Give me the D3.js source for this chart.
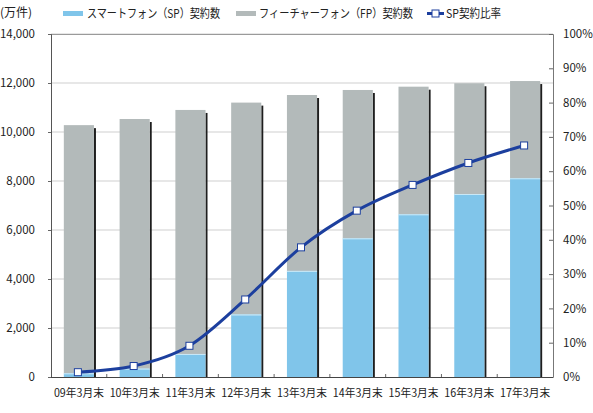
<!DOCTYPE html>
<html><head><meta charset="utf-8">
<script src="https://cdn.jsdelivr.net/npm/d3@7"></script>
<style>
html,body{margin:0;padding:0;background:#fff;}
text{font-family:"Noto Sans CJK JP","Noto Sans",sans-serif;fill:#222;}
</style></head>
<body><svg id="c" width="593" height="413"></svg>
<script>
const categories = ["09年3月末","10年3月末","11年3月末","12年3月末","13年3月末","14年3月末","15年3月末","16年3月末","17年3月末"];
const spValues = [150, 340, 940, 2550, 4330, 5660, 6640, 7470, 8110];
const totalValues = [10280, 10530, 10900, 11200, 11510, 11715, 11850, 11990, 12080];
const spRatio = [1.4, 3.2, 9.1, 22.6, 37.8, 48.5, 56.0, 62.4, 67.5];
const leftTicks = [0, 2000, 4000, 6000, 8000, 10000, 12000, 14000];
const rightTicks = [0,10,20,30,40,50,60,70,80,90,100];
const legendLabels = ["スマートフォン（SP）契約数","フィーチャーフォン（FP）契約数","SP契約比率"];
const unitLabel = "(万件)";

const svg = d3.select("#c");
const L = 51, R = 553, T = 34, B = 377;
const x = d3.scaleBand().domain(categories).range([L, R]).paddingInner(0.46).paddingOuter(0.23);
const y = d3.scaleLinear().domain([0, 14000]).range([B, T]);
const y2 = d3.scaleLinear().domain([0, 100]).range([B, T]);
const fs = 11.5;

// gridlines
svg.append("g").selectAll("line").data(leftTicks.slice(1)).join("line")
  .attr("x1", L).attr("x2", R).attr("y1", d => y(d)).attr("y2", d => y(d))
  .attr("stroke", "#cfcfcf").attr("stroke-width", 1);

// bars
const fp = svg.append("g");
categories.forEach((c, i) => {
  const bx = x(c), bw = x.bandwidth();
  fp.append("rect").attr("x", bx + bw).attr("y", y(totalValues[i]) + 3)
    .attr("width", 2).attr("height", B - y(totalValues[i]) - 3).attr("fill", "#1e1e1e");
  fp.append("rect").attr("x", bx).attr("y", y(totalValues[i]))
    .attr("width", bw).attr("height", y(spValues[i]) - y(totalValues[i])).attr("fill", "#b3baba");
  fp.append("rect").attr("x", bx).attr("y", y(spValues[i]))
    .attr("width", bw).attr("height", B - y(spValues[i])).attr("fill", "#80c5ea");
  fp.append("line").attr("x1", bx).attr("x2", bx + bw).attr("y1", y(spValues[i]) + 0.5).attr("y2", y(spValues[i]) + 0.5)
    .attr("stroke", "#c9e8f7").attr("stroke-width", 1);
});

// top line
svg.append("line").attr("x1", L).attr("x2", R).attr("y1", T + 0.5).attr("y2", T + 0.5).attr("stroke", "#9a9a9a");

// left axis
const la = svg.append("g").attr("transform", `translate(${L},0)`)
  .call(d3.axisLeft(y).tickValues(leftTicks).tickSize(3).tickPadding(13).tickFormat(d3.format(",")));
la.select(".domain").attr("stroke", "#555");
la.selectAll(".tick line").attr("stroke", "#666");
la.selectAll("text").attr("font-size", fs).attr("fill", "#222").style("font-family", '"Noto Sans CJK JP",sans-serif');

// right axis
const ra = svg.append("g").attr("transform", `translate(${R},0)`)
  .call(d3.axisRight(y2).tickValues(rightTicks).tickSize(-4).tickPadding(10).tickFormat(d => d + "%"));
ra.select(".domain").attr("stroke", "#777");
ra.selectAll(".tick line").attr("stroke", "#666");
ra.selectAll("text").attr("font-size", fs).attr("fill", "#222").style("font-family", '"Noto Sans CJK JP",sans-serif');

// bottom axis
const step = x.step();
const bounds = d3.range(1, categories.length).map(i => x(categories[i]) - step * x.paddingInner() / 2);
svg.append("g").selectAll("line").data(bounds).join("line")
  .attr("x1", d => d).attr("x2", d => d).attr("y1", B).attr("y2", B - 3).attr("stroke", "#666");
svg.append("line").attr("x1", L).attr("x2", R).attr("y1", B + 0.5).attr("y2", B + 0.5).attr("stroke", "#444");
svg.append("g").selectAll("text").data(categories).join("text")
  .attr("x", d => x(d) + x.bandwidth() / 2 - 25).attr("y", 397)
  .attr("font-size", fs).attr("textLength", 50).attr("lengthAdjust", "spacingAndGlyphs").text(d => d);

// ratio line
const line = d3.line().x((d, i) => x(categories[i]) + x.bandwidth() / 2 - 1).y(d => y2(d)).curve(d3.curveMonotoneX);
svg.append("path").datum(spRatio).attr("d", line).attr("fill", "none")
  .attr("stroke", "#1c3f9e").attr("stroke-width", 3);
svg.append("g").selectAll("rect").data(spRatio).join("rect")
  .attr("x", (d, i) => x(categories[i]) + x.bandwidth() / 2 - 1 - 3.5).attr("y", d => y2(d) - 3.5)
  .attr("width", 7).attr("height", 7).attr("fill", "#fff").attr("stroke", "#1c3f9e").attr("stroke-width", 1);

// unit + legend
svg.append("text").attr("x", 0).attr("y", 17).attr("font-size", 12).text(unitLabel);
svg.append("rect").attr("x", 63).attr("y", 11).attr("width", 20).attr("height", 5).attr("fill", "#80c5ea");
svg.append("text").attr("x", 87).attr("y", 18).attr("font-size", 12).attr("textLength", 133).attr("lengthAdjust", "spacingAndGlyphs").text(legendLabels[0]);
svg.append("rect").attr("x", 236).attr("y", 11).attr("width", 20).attr("height", 5).attr("fill", "#b3baba");
svg.append("text").attr("x", 259).attr("y", 18).attr("font-size", 12).attr("textLength", 154).attr("lengthAdjust", "spacingAndGlyphs").text(legendLabels[1]);
svg.append("line").attr("x1", 427).attr("x2", 444).attr("y1", 13.5).attr("y2", 13.5).attr("stroke", "#1c3f9e").attr("stroke-width", 3);
svg.append("rect").attr("x", 432).attr("y", 10).attr("width", 7).attr("height", 7).attr("fill", "#fff").attr("stroke", "#1c3f9e");
svg.append("text").attr("x", 446).attr("y", 18).attr("font-size", 12).attr("textLength", 55).attr("lengthAdjust", "spacingAndGlyphs").text(legendLabels[2]);
</script></body></html>
